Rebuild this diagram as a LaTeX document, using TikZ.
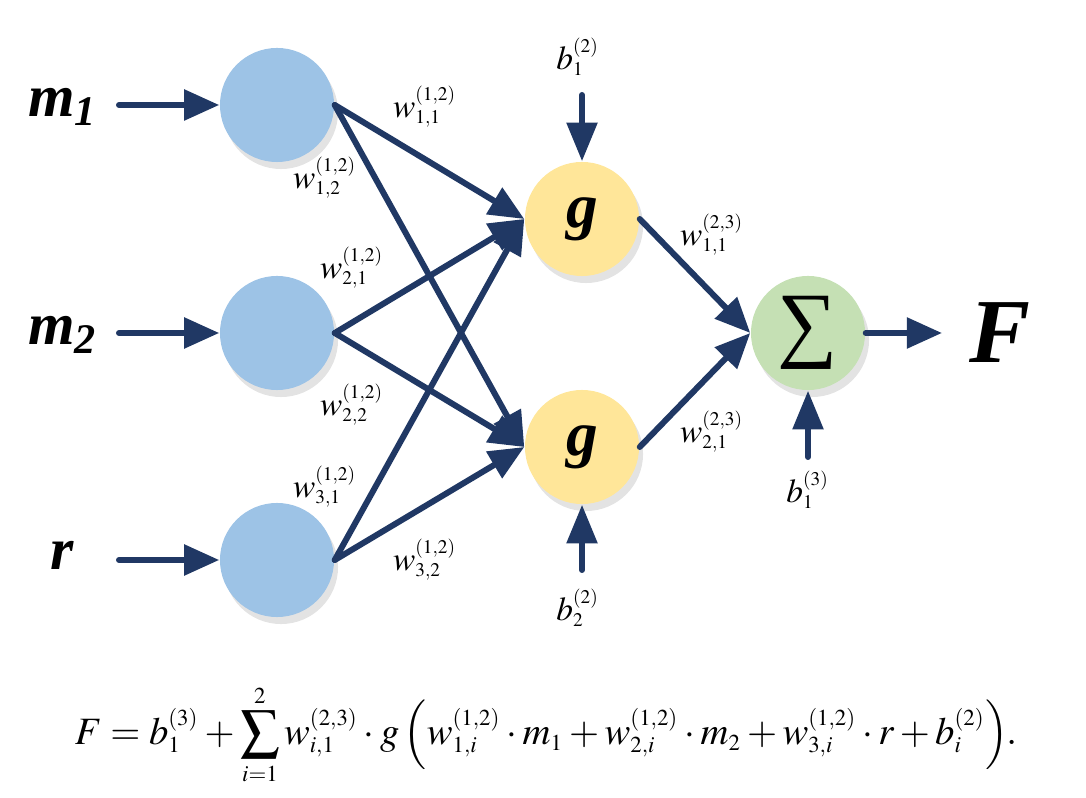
\documentclass[tikz,border=0pt]{standalone}
\usepackage{mathptmx}
\usepackage[no-math]{fontspec}
\setmainfont{Liberation Serif}
\usepackage{tikz}
\usetikzlibrary{arrows.meta}
\usetikzlibrary{shadows}
\DeclareMathSizes{9.5}{9.5}{5.5}{4.5}
\DeclareMathSizes{11}{11}{6.5}{5}
\definecolor{navy}{HTML}{203864}
\definecolor{inblue}{HTML}{9DC3E6}
\definecolor{hidyellow}{HTML}{FFE699}
\definecolor{sumgreen}{HTML}{C5E0B4}
\newcommand{\invar}[2]{{\bfseries\itshape #1\raisebox{-0.35ex}{\fontsize{12}{12}\selectfont #2}}}

\tikzset{
  neuron/.style={circle,minimum size=1.14cm,inner sep=0pt,
    drop shadow={shadow xshift=0.4mm,shadow yshift=-0.7mm,opacity=0.22}},
  inputn/.style={neuron,fill=inblue},
  hiddenn/.style={neuron,fill=hidyellow},
  sumn/.style={neuron,fill=sumgreen},
  link/.style={navy,line width=1.7pt,line cap=round,-{Triangle[length=10pt,width=8.5pt]}},
  biaslink/.style={link,-{Triangle[length=11pt,width=8.5pt]}},
  wlab/.style={inner sep=0pt,font=\fontsize{9.5}{11}\selectfont},
  varlab/.style={inner sep=0pt,font=\fontsize{17}{17}\selectfont}
}

\begin{document}
\begin{tikzpicture}[x=0.01cm,y=-0.01cm]
\useasboundingbox (0,0) rectangle (1086,798);

  \node[inputn] (in1) at (277,105) {};
  \node[inputn] (in2) at (277,333) {};
  \node[inputn] (in3) at (277,560) {};
  \node[hiddenn] (hid1) at (582,219) {\fontsize{18}{18}\selectfont\bfseries\itshape g};
  \node[hiddenn] (hid2) at (582,447) {\fontsize{18}{18}\selectfont\bfseries\itshape g};
  \node[sumn] (out) at (808,333) {\fontsize{24}{24}\selectfont ∑};

  \node[varlab] (m1lab) at (62,107) {\invar{m}{1}};
  \node[varlab] (m2lab) at (62,335) {\invar{m}{2}};
  \node[varlab] (rlab) at (62,560) {\invar{r}{}};
  \node[inner sep=0pt,font=\fontsize{26}{26}\selectfont\bfseries\itshape] (Flab) at (1000,333) {F};

  \coordinate (m1tail) at (119,105);
  \coordinate (m2tail) at (119,333);
  \coordinate (rtail) at (119,560);
  \coordinate (Fhead) at (942,333);
  \coordinate (b1tail) at (582,95);
  \coordinate (b2tail) at (582,570);
  \coordinate (b3tail) at (808,457);

  \draw[link] (m1tail) -- (in1);
  \draw[link] (m2tail) -- (in2);
  \draw[link] (rtail) -- (in3);

  \draw[link] (in1.east) -- (hid1.west);
  \draw[link] (in1.east) -- (hid2.west);
  \draw[link] (in2.east) -- (hid1.west);
  \draw[link] (in2.east) -- (hid2.west);
  \draw[link] (in3.east) -- (hid1.west);
  \draw[link] (in3.east) -- (hid2.west);

  \draw[link] (hid1.east) -- (out.west);
  \draw[link] (hid2.east) -- (out.west);
  \draw[link] (out.east) -- (Fhead);

  \draw[biaslink] (b1tail) -- (hid1.north);
  \draw[biaslink] (b2tail) -- (hid2.south);
  \draw[biaslink] (b3tail) -- (out.south);

  \node[wlab] (w11a) at (425,107) {$w_{1,1}^{(1,2)}$};
  \node[wlab] (w12a) at (325,178) {$w_{1,2}^{(1,2)}$};
  \node[wlab] (w21a) at (352,268) {$w_{2,1}^{(1,2)}$};
  \node[wlab] (w22a) at (352,405) {$w_{2,2}^{(1,2)}$};
  \node[wlab] (w31a) at (325,487) {$w_{3,1}^{(1,2)}$};
  \node[wlab] (w32a) at (425,560) {$w_{3,2}^{(1,2)}$};
  \node[wlab] (w11b) at (712,235) {$w_{1,1}^{(2,3)}$};
  \node[wlab] (w21b) at (712,432) {$w_{2,1}^{(2,3)}$};

  \node[wlab] (b1lab) at (578,57) {$b_1^{(2)}$};
  \node[wlab] (b2lab) at (578,608) {$b_2^{(2)}$};
  \node[wlab] (b3lab) at (808,490) {$b_1^{(3)}$};

  \node[inner sep=0pt,font=\fontsize{11}{13}\selectfont] (formula) at (546,735)
    {$\displaystyle F=b_1^{(3)}+\sum_{i=1}^{2}w_{i,1}^{(2,3)}\cdot g\left(w_{1,i}^{(1,2)}\cdot m_1+w_{2,i}^{(1,2)}\cdot m_2+w_{3,i}^{(1,2)}\cdot r+b_i^{(2)}\right)\mkern-3mu.$};
\end{tikzpicture}
\end{document}
